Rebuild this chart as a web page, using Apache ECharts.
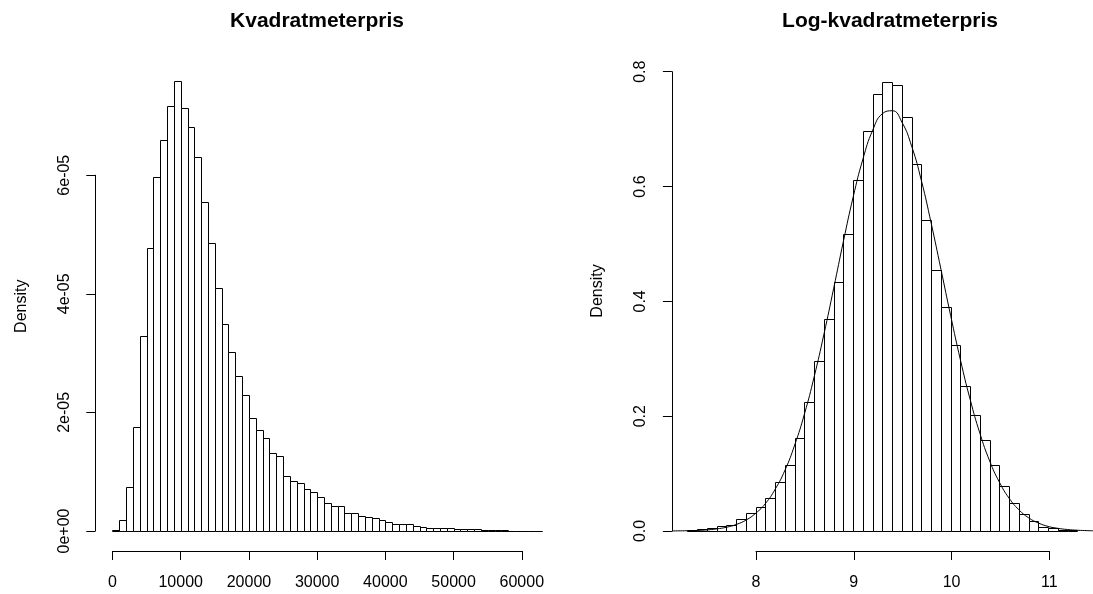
<!DOCTYPE html>
<html lang="no">
<head>
<meta charset="UTF-8">
<title>Kvadratmeterpris / Log-kvadratmeterpris</title>
<script src="https://cdn.jsdelivr.net/npm/echarts@6/dist/echarts.min.js"></script>
<style>
  html, body { margin: 0; padding: 0; background: #fff; }
  #chart { width: 1093px; height: 594px; }
</style>
</head>
<body>
<div id="chart"></div>
<script>
// venstre panel: kvadratmeterpris, bins paa 1000 fra 0, tetthet i enheter av 1e-05
var prisBinStart = 0;
var prisBinWidth = 1000;
var prisDensity = [
  0.02, 0.19, 0.74, 1.76, 3.28, 4.77, 5.97, 6.59, 7.17, 7.58,
  7.14, 6.82, 6.31, 5.54, 4.86, 4.09, 3.49, 3.01, 2.62, 2.29,
  1.91, 1.71, 1.56, 1.32, 1.26, 0.93, 0.85, 0.80, 0.70, 0.65,
  0.57, 0.47, 0.42, 0.42, 0.30, 0.30, 0.25, 0.23, 0.21, 0.19,
  0.15, 0.12, 0.11, 0.11, 0.09, 0.07, 0.05, 0.05, 0.05, 0.05,
  0.034, 0.034, 0.034, 0.03, 0.015, 0.012, 0.01, 0.008, 0.006, 0.005,
  0.004, 0.003, 0.002
];
var prisYLabels = ['0e+00', '2e-05', '4e-05', '6e-05'];

// hoeyre panel: log-kvadratmeterpris, bins paa 0.1 fra 7.3
var logBinStart = 7.3;
var logBinWidth = 0.1;
var logDensity = [
  0.002, 0.003, 0.005, 0.009, 0.011, 0.021, 0.031,
  0.041, 0.058, 0.085, 0.115, 0.162, 0.225, 0.297, 0.369, 0.434, 0.518,
  0.612, 0.696, 0.762, 0.782, 0.776, 0.721, 0.639, 0.541, 0.455, 0.391,
  0.324, 0.252, 0.202, 0.158, 0.115, 0.078, 0.048, 0.029, 0.018, 0.007,
  0.005, 0.002, 0.001
];
var logYLabels = ['0.0', '0.2', '0.4', '0.6', '0.8'];

// normalkurven lagt over histogrammet
var curveX = [7.14, 7.2, 7.3, 7.4, 7.5, 7.6, 7.7, 7.8, 7.9, 8.0, 8.1, 8.2, 8.3, 8.4, 8.5,
  8.6, 8.7, 8.8, 8.9, 9.0, 9.1, 9.2, 9.3, 9.4, 9.5, 9.6, 9.7, 9.8, 9.9, 10.0,
  10.1, 10.2, 10.3, 10.4, 10.5, 10.6, 10.7, 10.8, 10.9, 11.0, 11.1, 11.2, 11.3, 11.4, 11.46];
var curveY = [0.0001, 0.0003, 0.0005, 0.0010, 0.0020, 0.0037, 0.0066, 0.0114, 0.019, 0.031, 0.048, 0.073, 0.106, 0.150, 0.204,
  0.269, 0.343, 0.423, 0.505, 0.582, 0.648, 0.698, 0.727, 0.732, 0.712, 0.670, 0.610, 0.536, 0.456, 0.375,
  0.298, 0.229, 0.170, 0.122, 0.085, 0.057, 0.037, 0.023, 0.014, 0.008, 0.0047, 0.0026, 0.0014, 0.0007, 0.0004];

var FONT = 'Liberation Sans, Arial, sans-serif';

function bins(start, width, values) {
  return values.map(function (v, i) {
    return [start + i * width, start + (i + 1) * width, v];
  });
}

function histItem(params, api) {
  var p0 = api.coord([api.value(0), api.value(2)]);
  var p1 = api.coord([api.value(1), 0]);
  var x0 = Math.round(p0[0]) + 0.5, x1 = Math.round(p1[0]) + 0.5;
  var y0 = Math.round(p0[1]) + 0.5, y1 = Math.round(p1[1]) + 0.5;
  return {
    type: 'rect',
    shape: { x: x0, y: y0, width: x1 - x0, height: y1 - y0 },
    style: { fill: '#fff', stroke: '#000', lineWidth: 1 }
  };
}

var lineStyle = { color: '#000', width: 1 };
var labelStyle = { color: '#000', fontSize: 16, fontFamily: FONT };

function dataXAxis(grid, min, max) {
  return { gridIndex: grid, type: 'value', min: min, max: max, show: false };
}
function dataYAxis(grid, min, max) {
  return {
    gridIndex: grid, type: 'value', min: min, max: max,
    name: 'Density', nameLocation: 'middle', nameGap: 66, nameRotate: 90,
    nameTextStyle: labelStyle,
    axisLine: { show: false, onZero: false }, axisTick: { show: false },
    axisLabel: { show: false }, splitLine: { show: false }
  };
}
function frameXAxis(grid, min, max, interval) {
  return {
    gridIndex: grid, type: 'value', min: min, max: max, interval: interval,
    position: 'bottom', offset: 20,
    axisLine: { show: true, onZero: false, lineStyle: lineStyle },
    axisTick: { show: true, length: 9, lineStyle: lineStyle },
    axisLabel: {
      margin: 24, showMinLabel: true, showMaxLabel: true, color: '#000', fontSize: 16, fontFamily: FONT,
      formatter: function (v) { return String(v); }
    },
    splitLine: { show: false }
  };
}
function frameYAxis(grid, max, interval, offset, labels) {
  return {
    gridIndex: grid, type: 'value', min: 0, max: max, interval: interval,
    position: 'left', offset: offset,
    axisLine: { show: true, onZero: false, lineStyle: lineStyle },
    axisTick: { show: true, length: 9, lineStyle: lineStyle },
    axisLabel: {
      margin: 23, rotate: 90, showMinLabel: true, showMaxLabel: true,
      color: '#000', fontSize: 16, fontFamily: FONT,
      formatter: function (v) { return labels[Math.round(v / interval)]; }
    },
    splitLine: { show: false }
  };
}

var chart = echarts.init(document.getElementById('chart'), null, { renderer: 'canvas' });

chart.setOption({
  animation: false,
  backgroundColor: '#fff',
  graphic: [
    { type: 'text', x: 317, y: 21, style: { text: 'Kvadratmeterpris', font: 'bold 21px ' + FONT, fill: '#000', textAlign: 'center', textVerticalAlign: 'middle' } },
    { type: 'text', x: 890, y: 21, style: { text: 'Log-kvadratmeterpris', font: 'bold 21px ' + FONT, fill: '#000', textAlign: 'center', textVerticalAlign: 'middle' } }
  ],
  grid: [
    { left: 95.3, top: 63.5, width: 464.2, height: 485.4 },   // venstre plottomraade
    { left: 112.5, top: 175.2, width: 409.3, height: 355.8 }, // venstre akser (0..60000, 0..6e-05)
    { left: 671.9, top: 33, width: 422.4, height: 516 },      // hoeyre plottomraade
    { left: 756, top: 71.7, width: 293.3, height: 459.3 }     // hoeyre akser (8..11, 0..0.8)
  ],
  xAxis: [
    dataXAxis(0, -2520, 65520),
    frameXAxis(1, 0, 60000, 10000),
    dataXAxis(2, 7.14, 11.46),
    frameXAxis(3, 8, 11, 1)
  ],
  yAxis: [
    dataYAxis(0, -0.303, 7.883),
    frameYAxis(1, 6, 2, 17.2, prisYLabels),
    dataYAxis(2, -0.0313, 0.8674),
    frameYAxis(3, 0.8, 0.2, 84.1, logYLabels)
  ],
  series: [
    {
      type: 'custom', xAxisIndex: 0, yAxisIndex: 0,
      renderItem: histItem, encode: { x: [0, 1], y: 2 },
      data: bins(prisBinStart, prisBinWidth, prisDensity)
    },
    {
      type: 'custom', xAxisIndex: 2, yAxisIndex: 2,
      renderItem: histItem, encode: { x: [0, 1], y: 2 },
      data: bins(logBinStart, logBinWidth, logDensity)
    },
    {
      type: 'line', xAxisIndex: 2, yAxisIndex: 2,
      data: curveX.map(function (x, i) { return [x, curveY[i]]; }),
      smooth: true, symbol: 'none', lineStyle: lineStyle, z: 3
    }
  ]
});
</script>
</body>
</html>
